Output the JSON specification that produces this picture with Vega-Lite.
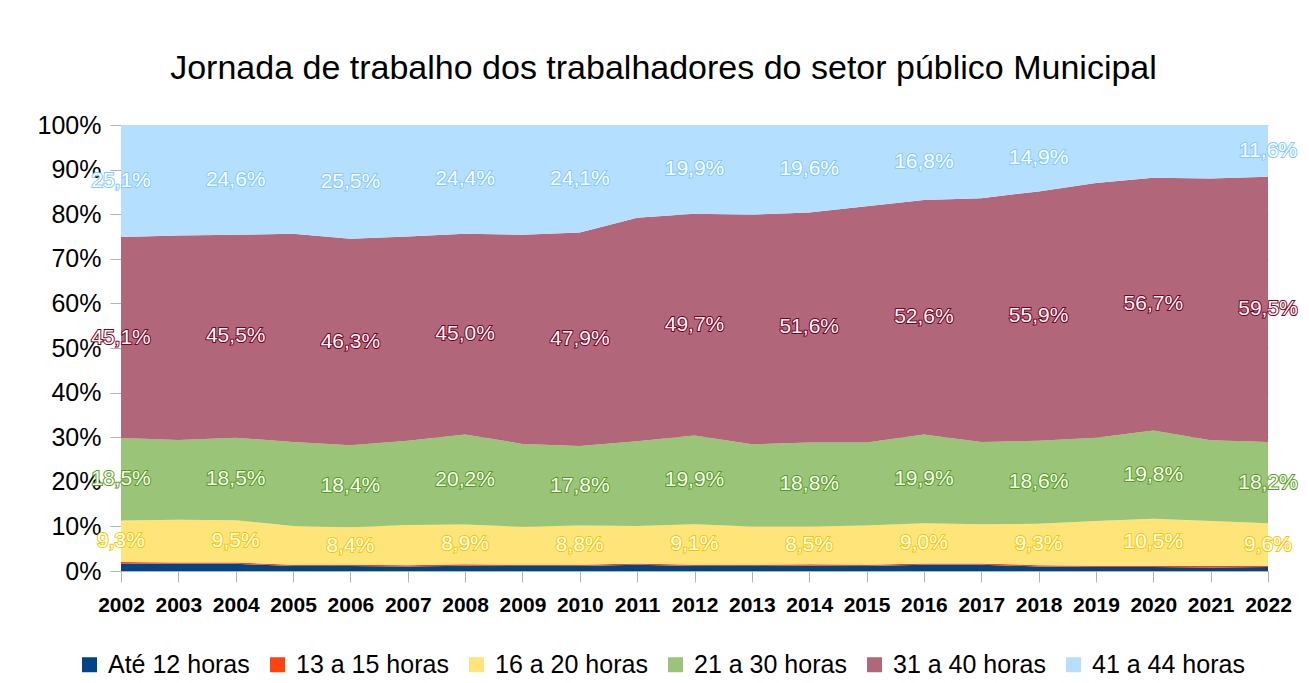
{
  "$schema": "https://vega.github.io/schema/vega-lite/v6.json",
  "width": 1147,
  "height": 446,
  "padding": {"left": 37, "top": 52, "right": 5, "bottom": 5},
  "title": {"text": "Jornada de trabalho dos trabalhadores do setor público Municipal", "fontSize": 34, "fontWeight": "normal", "font": "Liberation Sans", "color": "#000000", "offset": 27, "anchor": "middle", "dx": -31},
  "data": {"values": [
    {"year": 2002, "series": "Até 12 horas", "value": 1.7}, {"year": 2002, "series": "13 a 15 horas", "value": 0.3}, {"year": 2002, "series": "16 a 20 horas", "value": 9.3}, {"year": 2002, "series": "21 a 30 horas", "value": 18.5}, {"year": 2002, "series": "31 a 40 horas", "value": 45.1}, {"year": 2002, "series": "41 a 44 horas", "value": 25.1},
    {"year": 2003, "series": "Até 12 horas", "value": 1.6}, {"year": 2003, "series": "13 a 15 horas", "value": 0.3}, {"year": 2003, "series": "16 a 20 horas", "value": 9.6}, {"year": 2003, "series": "21 a 30 horas", "value": 17.9}, {"year": 2003, "series": "31 a 40 horas", "value": 45.8}, {"year": 2003, "series": "41 a 44 horas", "value": 24.8},
    {"year": 2004, "series": "Até 12 horas", "value": 1.6}, {"year": 2004, "series": "13 a 15 horas", "value": 0.3}, {"year": 2004, "series": "16 a 20 horas", "value": 9.5}, {"year": 2004, "series": "21 a 30 horas", "value": 18.5}, {"year": 2004, "series": "31 a 40 horas", "value": 45.5}, {"year": 2004, "series": "41 a 44 horas", "value": 24.6},
    {"year": 2005, "series": "Até 12 horas", "value": 1.1}, {"year": 2005, "series": "13 a 15 horas", "value": 0.3}, {"year": 2005, "series": "16 a 20 horas", "value": 8.7}, {"year": 2005, "series": "21 a 30 horas", "value": 18.8}, {"year": 2005, "series": "31 a 40 horas", "value": 46.7}, {"year": 2005, "series": "41 a 44 horas", "value": 24.4},
    {"year": 2006, "series": "Até 12 horas", "value": 1.1}, {"year": 2006, "series": "13 a 15 horas", "value": 0.3}, {"year": 2006, "series": "16 a 20 horas", "value": 8.4}, {"year": 2006, "series": "21 a 30 horas", "value": 18.4}, {"year": 2006, "series": "31 a 40 horas", "value": 46.3}, {"year": 2006, "series": "41 a 44 horas", "value": 25.5},
    {"year": 2007, "series": "Até 12 horas", "value": 1.0}, {"year": 2007, "series": "13 a 15 horas", "value": 0.3}, {"year": 2007, "series": "16 a 20 horas", "value": 9.0}, {"year": 2007, "series": "21 a 30 horas", "value": 18.9}, {"year": 2007, "series": "31 a 40 horas", "value": 45.8}, {"year": 2007, "series": "41 a 44 horas", "value": 25.0},
    {"year": 2008, "series": "Até 12 horas", "value": 1.2}, {"year": 2008, "series": "13 a 15 horas", "value": 0.3}, {"year": 2008, "series": "16 a 20 horas", "value": 8.9}, {"year": 2008, "series": "21 a 30 horas", "value": 20.2}, {"year": 2008, "series": "31 a 40 horas", "value": 45.0}, {"year": 2008, "series": "41 a 44 horas", "value": 24.4},
    {"year": 2009, "series": "Até 12 horas", "value": 1.1}, {"year": 2009, "series": "13 a 15 horas", "value": 0.3}, {"year": 2009, "series": "16 a 20 horas", "value": 8.5}, {"year": 2009, "series": "21 a 30 horas", "value": 18.6}, {"year": 2009, "series": "31 a 40 horas", "value": 46.9}, {"year": 2009, "series": "41 a 44 horas", "value": 24.6},
    {"year": 2010, "series": "Até 12 horas", "value": 1.1}, {"year": 2010, "series": "13 a 15 horas", "value": 0.3}, {"year": 2010, "series": "16 a 20 horas", "value": 8.8}, {"year": 2010, "series": "21 a 30 horas", "value": 17.8}, {"year": 2010, "series": "31 a 40 horas", "value": 47.9}, {"year": 2010, "series": "41 a 44 horas", "value": 24.1},
    {"year": 2011, "series": "Até 12 horas", "value": 1.4}, {"year": 2011, "series": "13 a 15 horas", "value": 0.3}, {"year": 2011, "series": "16 a 20 horas", "value": 8.4}, {"year": 2011, "series": "21 a 30 horas", "value": 19.0}, {"year": 2011, "series": "31 a 40 horas", "value": 50.1}, {"year": 2011, "series": "41 a 44 horas", "value": 20.8},
    {"year": 2012, "series": "Até 12 horas", "value": 1.1}, {"year": 2012, "series": "13 a 15 horas", "value": 0.3}, {"year": 2012, "series": "16 a 20 horas", "value": 9.1}, {"year": 2012, "series": "21 a 30 horas", "value": 19.9}, {"year": 2012, "series": "31 a 40 horas", "value": 49.7}, {"year": 2012, "series": "41 a 44 horas", "value": 19.9},
    {"year": 2013, "series": "Até 12 horas", "value": 1.1}, {"year": 2013, "series": "13 a 15 horas", "value": 0.3}, {"year": 2013, "series": "16 a 20 horas", "value": 8.6}, {"year": 2013, "series": "21 a 30 horas", "value": 18.4}, {"year": 2013, "series": "31 a 40 horas", "value": 51.5}, {"year": 2013, "series": "41 a 44 horas", "value": 20.1},
    {"year": 2014, "series": "Até 12 horas", "value": 1.2}, {"year": 2014, "series": "13 a 15 horas", "value": 0.3}, {"year": 2014, "series": "16 a 20 horas", "value": 8.5}, {"year": 2014, "series": "21 a 30 horas", "value": 18.8}, {"year": 2014, "series": "31 a 40 horas", "value": 51.6}, {"year": 2014, "series": "41 a 44 horas", "value": 19.6},
    {"year": 2015, "series": "Até 12 horas", "value": 1.1}, {"year": 2015, "series": "13 a 15 horas", "value": 0.3}, {"year": 2015, "series": "16 a 20 horas", "value": 8.8}, {"year": 2015, "series": "21 a 30 horas", "value": 18.6}, {"year": 2015, "series": "31 a 40 horas", "value": 53.0}, {"year": 2015, "series": "41 a 44 horas", "value": 18.2},
    {"year": 2016, "series": "Até 12 horas", "value": 1.4}, {"year": 2016, "series": "13 a 15 horas", "value": 0.3}, {"year": 2016, "series": "16 a 20 horas", "value": 9.0}, {"year": 2016, "series": "21 a 30 horas", "value": 19.9}, {"year": 2016, "series": "31 a 40 horas", "value": 52.6}, {"year": 2016, "series": "41 a 44 horas", "value": 16.8},
    {"year": 2017, "series": "Até 12 horas", "value": 1.4}, {"year": 2017, "series": "13 a 15 horas", "value": 0.3}, {"year": 2017, "series": "16 a 20 horas", "value": 8.8}, {"year": 2017, "series": "21 a 30 horas", "value": 18.4}, {"year": 2017, "series": "31 a 40 horas", "value": 54.7}, {"year": 2017, "series": "41 a 44 horas", "value": 16.4},
    {"year": 2018, "series": "Até 12 horas", "value": 1.0}, {"year": 2018, "series": "13 a 15 horas", "value": 0.3}, {"year": 2018, "series": "16 a 20 horas", "value": 9.3}, {"year": 2018, "series": "21 a 30 horas", "value": 18.6}, {"year": 2018, "series": "31 a 40 horas", "value": 55.9}, {"year": 2018, "series": "41 a 44 horas", "value": 14.9},
    {"year": 2019, "series": "Até 12 horas", "value": 0.9}, {"year": 2019, "series": "13 a 15 horas", "value": 0.3}, {"year": 2019, "series": "16 a 20 horas", "value": 10.0}, {"year": 2019, "series": "21 a 30 horas", "value": 18.7}, {"year": 2019, "series": "31 a 40 horas", "value": 57.1}, {"year": 2019, "series": "41 a 44 horas", "value": 13.0},
    {"year": 2020, "series": "Até 12 horas", "value": 0.9}, {"year": 2020, "series": "13 a 15 horas", "value": 0.3}, {"year": 2020, "series": "16 a 20 horas", "value": 10.5}, {"year": 2020, "series": "21 a 30 horas", "value": 19.8}, {"year": 2020, "series": "31 a 40 horas", "value": 56.7}, {"year": 2020, "series": "41 a 44 horas", "value": 11.8},
    {"year": 2021, "series": "Até 12 horas", "value": 0.8}, {"year": 2021, "series": "13 a 15 horas", "value": 0.3}, {"year": 2021, "series": "16 a 20 horas", "value": 10.1}, {"year": 2021, "series": "21 a 30 horas", "value": 18.1}, {"year": 2021, "series": "31 a 40 horas", "value": 58.7}, {"year": 2021, "series": "41 a 44 horas", "value": 12.0},
    {"year": 2022, "series": "Até 12 horas", "value": 0.9}, {"year": 2022, "series": "13 a 15 horas", "value": 0.2}, {"year": 2022, "series": "16 a 20 horas", "value": 9.6}, {"year": 2022, "series": "21 a 30 horas", "value": 18.2}, {"year": 2022, "series": "31 a 40 horas", "value": 59.5}, {"year": 2022, "series": "41 a 44 horas", "value": 11.6}
  ]},
  "transform": [
    {"calculate": "indexof(['Até 12 horas','13 a 15 horas','16 a 20 horas','21 a 30 horas','31 a 40 horas','41 a 44 horas'], datum.series)", "as": "idx"},
    {"stack": "value", "groupby": ["year"], "sort": [{"field": "idx", "order": "ascending"}], "as": ["y0", "y1"], "offset": "normalize"},
    {"calculate": "(datum.y0 + datum.y1) / 2", "as": "mid"},
    {"calculate": "replace(format(datum.value, '.1f'), '.', ',') + '%'", "as": "label"}
  ],
  "encoding": {
    "x": {"field": "year", "type": "ordinal", "scale": {"type": "point", "padding": 0}, "axis": {"title": null}}
  },
  "layer": [
    {
      "mark": {"type": "area", "interpolate": "linear"},
      "encoding": {
        "y": {"field": "y0", "type": "quantitative", "scale": {"domain": [0, 1], "nice": false}, "axis": {"title": null, "format": ".0%", "values": [0, 0.1, 0.2, 0.3, 0.4, 0.5, 0.6, 0.7, 0.8, 0.9, 1]}},
        "y2": {"field": "y1"},
        "color": {
          "field": "series", "type": "nominal",
          "scale": {"domain": ["Até 12 horas", "13 a 15 horas", "16 a 20 horas", "21 a 30 horas", "31 a 40 horas", "41 a 44 horas"], "range": ["#004586", "#ff420e", "#ffe579", "#9ac477", "#b2667a", "#b5dfff"]},
          "legend": {"title": null, "orient": "none", "direction": "horizontal", "legendX": -44, "legendY": 527, "symbolType": "square", "symbolSize": 225, "symbolStrokeWidth": 0, "labelFontSize": 25, "labelFont": "Liberation Sans", "labelColor": "#000000", "labelOffset": 6, "columnPadding": 15, "labelLimit": 400, "padding": 0}
        }
      }
    },
    {
      "transform": [{"filter": "datum.idx >= 2 && datum.year % 2 == 0 && !(datum.year == 2020 && datum.idx == 5)"}],
      "mark": {"type": "text", "fontSize": 21, "font": "Liberation Sans", "strokeWidth": 2, "baseline": "middle", "align": "center"},
      "encoding": {
        "y": {"field": "mid", "type": "quantitative", "axis": {"title": null, "format": ".0%", "values": [0, 0.1, 0.2, 0.3, 0.4, 0.5, 0.6, 0.7, 0.8, 0.9, 1]}},
        "text": {"field": "label"},
        "fill": {"field": "series", "type": "nominal", "scale": {"domain": ["16 a 20 horas", "21 a 30 horas", "31 a 40 horas", "41 a 44 horas"], "range": ["#f5c800", "#579d1c", "#7e0021", "#83caff"]}, "legend": null},
        "stroke": {"field": "series", "type": "nominal", "scale": {"domain": ["16 a 20 horas", "21 a 30 horas", "31 a 40 horas", "41 a 44 horas"], "range": ["#f5c800", "#579d1c", "#7e0021", "#83caff"]}, "legend": null}
      }
    },
    {
      "transform": [{"filter": "datum.idx >= 2 && datum.year % 2 == 0 && !(datum.year == 2020 && datum.idx == 5)"}],
      "mark": {"type": "text", "fontSize": 21, "font": "Liberation Sans", "color": "#ffffff", "baseline": "middle", "align": "center"},
      "encoding": {
        "y": {"field": "mid", "type": "quantitative", "axis": {"title": null, "format": ".0%", "values": [0, 0.1, 0.2, 0.3, 0.4, 0.5, 0.6, 0.7, 0.8, 0.9, 1]}},
        "text": {"field": "label"}
      }
    }
  ],
  "config": {
    "font": "Liberation Sans",
    "view": {"stroke": null},
    "axis": {"domainColor": "#b3b3b3", "tickColor": "#b3b3b3", "tickSize": 11, "labelColor": "#000000", "labelFont": "Liberation Sans"},
    "axisX": {"grid": false, "labelFontSize": 21, "labelFontWeight": "bold", "labelAngle": 0, "labelPadding": 12},
    "axisY": {"grid": true, "gridColor": "#000000", "gridOpacity": 0.2, "labelFontSize": 25, "labelPadding": 9, "zindex": 1}
  }
}
